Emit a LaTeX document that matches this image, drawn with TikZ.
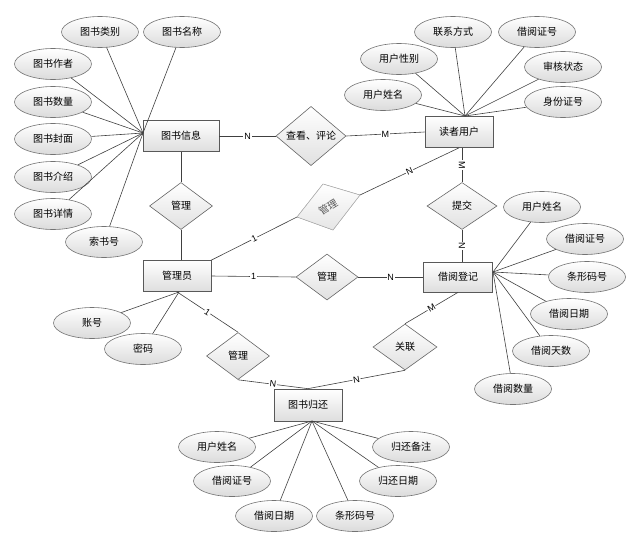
\documentclass[tikz,border=0pt]{standalone}
\usepackage{fontspec}
\setmainfont{Liberation Sans}
\newfontfamily\cjk{Noto Sans CJK SC}
\usetikzlibrary{shapes.geometric}
\begin{document}
\begin{tikzpicture}[x=1pt,y=-1pt,
  cjkfont/.style={font=\cjk\fontsize{10}{12}\selectfont},
  ent/.style={draw=black!65, line width=0.7pt, top color=white, bottom color=black!13, minimum width=68pt, minimum height=31pt, inner sep=0pt, cjkfont},
  attr/.style={ellipse, draw=black!55, line width=0.6pt, top color=white, bottom color=black!14, minimum width=77pt, minimum height=31pt, inner sep=0pt, cjkfont},
  rel/.style={diamond, draw=black!60, line width=0.6pt, top color=white, bottom color=black!12, inner sep=0pt, cjkfont},
  conn/.style={draw=black!75, line width=0.6pt},
  lab/.style={fill=white, inner sep=0.8pt, font=\fontsize{9}{10}\selectfont},
  slab/.style={lab, sloped}
]
\useasboundingbox (0,0) rectangle (634,538);

% entities
\node[ent, minimum width=76pt] (e1) at (181,136) {图书信息};
\node[ent] (e2) at (459,132) {读者用户};
\node[ent] (e3) at (177,276) {管理员};
\node[ent, minimum width=69pt, minimum height=30pt] (e4) at (458,277) {借阅登记};
\node[ent, minimum height=32pt] (e5) at (308,405) {图书归还};

% relationships
\node[rel, minimum width=70pt, minimum height=46pt] (d1) at (311,136) {查看、评论};
\node[rel, minimum width=63pt, minimum height=47pt] (d2) at (181,206) {管理};
\node[rel, minimum width=70pt, minimum height=47pt] (d4) at (462,206) {提交};
\node[rel, minimum width=62pt, minimum height=46pt] (d5) at (327,277) {管理};
\node[rel, minimum width=63pt, minimum height=47pt] (d6) at (238,356) {管理};
\node[rel, minimum width=64pt, minimum height=46pt] (d7) at (405,347) {关联};

% gray skewed diamond
\coordinate (d3t) at (323,184);
\coordinate (d3r) at (360,195);
\coordinate (d3b) at (333,230);
\coordinate (d3l) at (297,217);
\fill[top color=white, bottom color=black!10, draw=black!30, line width=0.6pt] (d3t) -- (d3r) -- (d3b) -- (d3l) -- cycle;
\node[cjkfont, text=black!65, rotate=32] (d3) at (328,207) {管理};

% relationship connectors
\draw[conn] (e1.east) -- node[lab]{N} (d1.west);
\draw[conn] (d1.east) -- node[lab]{M} (e2.west);
\draw[conn] (e1.south) -- (d2.north);
\draw[conn] (d2.south) -- (d2.south |- e3.north);
\draw[conn] (e3.north east) -- node[slab]{1} (d3l);
\draw[conn] (d3r) -- node[slab]{N} (e2.south);
\draw[conn] (d4.north |- e2.south) -- node[slab]{M} (d4.north);
\draw[conn] (d4.south) -- node[slab]{N} (d4.south |- e4.north);
\draw[conn] (e3.east) -- node[lab]{1} (d5.west);
\draw[conn] (d5.east) -- node[lab]{N} (e4.west);
\draw[conn] (e3.south) -- node[slab]{1} (d6.north);
\draw[conn] (d6.south) -- node[slab]{N} (e5.north);
\draw[conn] (e4.south) -- node[slab]{M} (d7.north);
\draw[conn] (d7.south) -- node[slab]{N} (e5.north);

% convergence points
\coordinate (p1) at (143,133);
\coordinate (p2) at (465,116);
\coordinate (p3) at (493,272);
\coordinate (p4) at (179,292);
\coordinate (p5) at (312,421);

% attributes of 图书信息
\node[attr] (a11) at (100,32) {图书类别};
\node[attr] (a12) at (182,32) {图书名称};
\node[attr] (a13) at (53,64) {图书作者};
\node[attr] (a14) at (53,102) {图书数量};
\node[attr] (a15) at (53,139) {图书封面};
\node[attr] (a16) at (53,177) {图书介绍};
\node[attr] (a17) at (53,214) {图书详情};
\node[attr] (a18) at (104,242) {索书号};
\foreach \a in {a11,a12,a13,a14,a15,a16,a17,a18} \draw[conn] (\a) -- (p1);

% attributes of 读者用户
\node[attr] (a21) at (383,95) {用户姓名};
\node[attr] (a22) at (399,59) {用户性别};
\node[attr] (a23) at (453,32) {联系方式};
\node[attr] (a24) at (537,32) {借阅证号};
\node[attr] (a25) at (563,67) {审核状态};
\node[attr] (a26) at (563,102) {身份证号};
\foreach \a in {a21,a22,a23,a24,a25,a26} \draw[conn] (\a) -- (p2);

% attributes of 借阅登记
\node[attr] (a31) at (542,207) {用户姓名};
\node[attr] (a32) at (585,239) {借阅证号};
\node[attr] (a33) at (587,277) {条形码号};
\node[attr] (a34) at (569,314) {借阅日期};
\node[attr] (a35) at (551,351) {借阅天数};
\node[attr] (a36) at (513,389) {借阅数量};
\foreach \a in {a31,a32,a33,a34,a35,a36} \draw[conn] (\a) -- (p3);

% attributes of 管理员
\node[attr] (a41) at (92,323) {账号};
\node[attr] (a42) at (143,349) {密码};
\foreach \a in {a41,a42} \draw[conn] (\a) -- (p4);

% attributes of 图书归还
\node[attr] (a51) at (217,447) {用户姓名};
\node[attr] (a52) at (232,481) {借阅证号};
\node[attr] (a53) at (274,516) {借阅日期};
\node[attr] (a54) at (355,516) {条形码号};
\node[attr] (a55) at (398,481) {归还日期};
\node[attr] (a56) at (411,447) {归还备注};
\foreach \a in {a51,a52,a53,a54,a55,a56} \draw[conn] (\a) -- (p5);
\end{tikzpicture}
\end{document}
